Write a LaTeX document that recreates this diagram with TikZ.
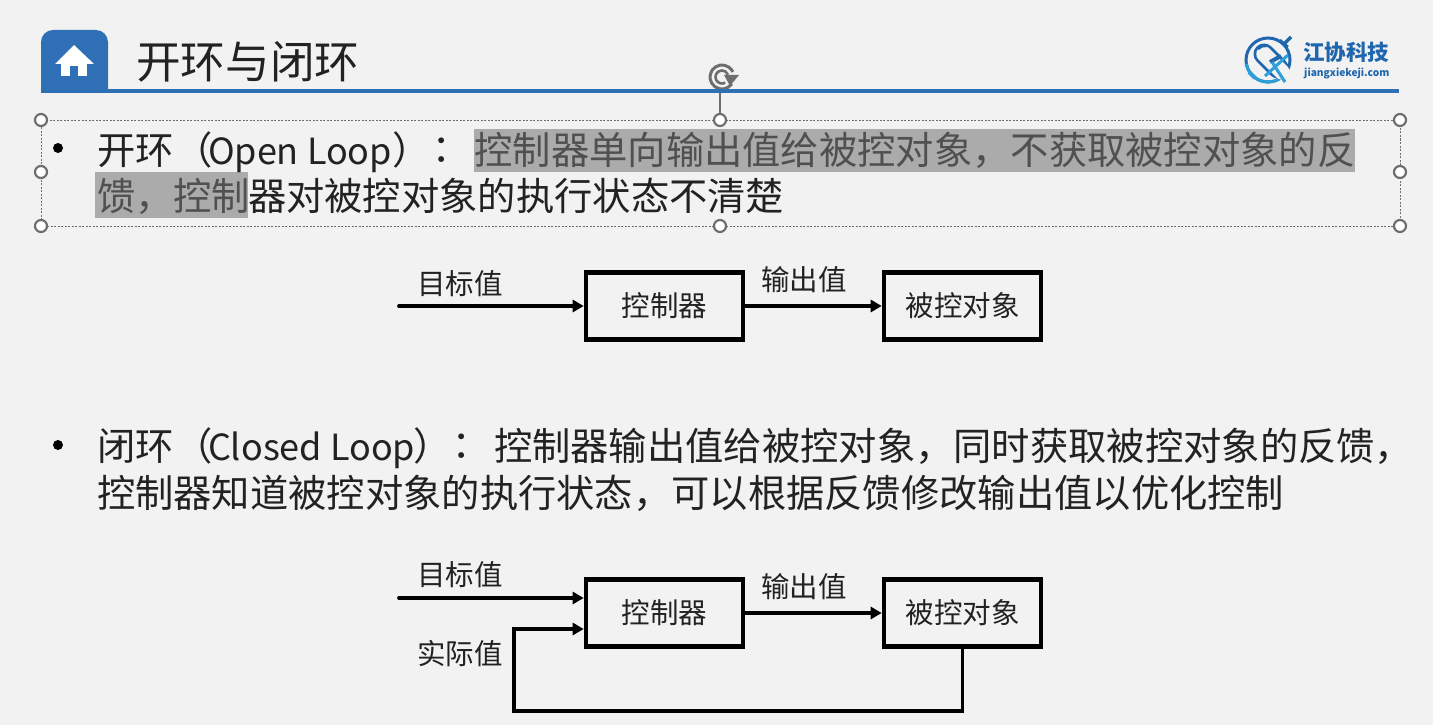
\documentclass[tikz,border=0pt]{standalone}
\usepackage{fontspec}
\setmainfont{Noto Sans CJK SC}
\newfontfamily\tcfont{Noto Sans CJK TC}
\usetikzlibrary{arrows.meta,calc}
\definecolor{bg}{HTML}{F2F2F2}
\definecolor{barblue}{HTML}{2E6FB5}
\definecolor{logodark}{HTML}{1F66AE}
\definecolor{logolight}{HTML}{2A9FD8}
\definecolor{hl}{HTML}{ABABAB}
\definecolor{hltext}{HTML}{505050}
\definecolor{ink}{HTML}{222222}
\definecolor{handle}{HTML}{6E6E6E}
\tikzset{
  x=1pt,y=-1pt,
  body/.style={anchor=base west,inner sep=0pt,outer sep=0pt,text=ink,font=\fontsize{38.3}{38.3}\selectfont},
  latinpart/.style={body,font=\fontsize{36}{36}\selectfont},
  colonpart/.style={anchor=base,inner sep=0pt,outer sep=0pt,text=ink,font=\fontsize{38.3}{38.3}\selectfont\tcfont},
  seltext/.style={body,text=hltext},
  blockbox/.style={draw=black,line width=4.6pt,minimum width=157pt,minimum height=67pt,inner sep=0pt,font=\fontsize{28.5}{28.5}\selectfont,text=ink},
  lbl/.style={anchor=center,inner sep=0pt,font=\fontsize{28.5}{28.5}\selectfont,text=ink},
  flow/.style={line width=3.8pt,draw=black,line cap=round,-{Triangle[length=11pt,width=12pt]}},
  handlept/.style={circle,draw=handle,fill=white,line width=2.2pt,minimum size=12pt,inner sep=0pt},
  bulletdot/.style={circle,fill=black,minimum size=10pt,inner sep=0pt}
}
\begin{document}
\begin{tikzpicture}
\useasboundingbox (0,0) rectangle (1433,725);
\fill[bg] (0,0) rectangle (1433,725);
% rotation handle, partly under the header bar
\draw[handle,line width=3pt] (722,77) ++(35:12) arc[start angle=35,end angle=335,radius=12];
\draw[handle,line width=2.6pt] (722,77) ++(60:6.5) arc[start angle=60,end angle=340,radius=6.5];
\fill[handle] (724,75) -- (739,75) -- (730,86) -- cycle;
% header
\fill[barblue] (41,89) rectangle (1399,93);
\fill[barblue] (41,92) -- (41,42) arc[start angle=180,end angle=270,radius=12] -- (96,30) arc[start angle=270,end angle=360,radius=12] -- (108,92) -- cycle;
\fill[white] (74,45) -- (94,64) -- (55,64) -- cycle;
\fill[white] (61,62) rectangle (87,76);
\fill[barblue] (70,66) rectangle (78,76);
\node[anchor=base west,inner sep=0pt,text=ink,font=\fontsize{44.6}{45}\selectfont] (title) at (136,78) {开环与闭环};
% logo
\draw[logodark,line width=3pt] (1268,60) circle[radius=22];
\draw[logolight,line width=3pt] (1268,60) ++(60:22) arc[start angle=60,end angle=170,radius=22];
\draw[bg,line width=7pt] (1284,44) -- (1292,36);
\draw[bg,line width=7pt] (1252,76) -- (1245,83);
\draw[logodark,line width=21pt,line cap=round] (1264,54) -- (1278,68);
\draw[bg,line width=15.5pt,line cap=round] (1264,54) -- (1282,72);
\draw[logodark,line width=2.5pt] (1258,49) arc[start angle=220,end angle=280,radius=9];
\draw[logolight,line width=3pt] (1265,76) -- (1288,55);
\draw[logodark,line width=4pt] (1270,62) -- (1281,56);
\draw[logolight,line width=3pt] (1272,62) -- (1285,82);
\draw[logodark,line width=3.5pt] (1283,45) -- (1291,37);
\draw[logodark,line width=2.5pt] (1280,40) -- (1288,47);
\draw[logolight,line width=4pt] (1249,72) -- (1255,78);
\node[anchor=base west,inner sep=0pt,text=logodark,font=\fontsize{21.5}{22}\selectfont\bfseries] (logoa) at (1303,61) {江协科技};
\node[anchor=base west,inner sep=0pt,text=logodark,font=\fontsize{10.2}{11}\selectfont\bfseries] (logob) at (1304,77) {jiangxiekeji.com};
% selection frame
\draw[handle,line width=1pt,dash pattern=on 2pt off 1.5pt] (41,120) rectangle (1400,226);
\draw[handle,line width=1.2pt] (720,120) -- (720,93);
\node[handlept] (h1) at (41,120) {};
\node[handlept] (h2) at (720,120) {};
\node[handlept] (h3) at (1400,120) {};
\node[handlept] (h4) at (41,172) {};
\node[handlept] (h5) at (1400,172) {};
\node[handlept] (h6) at (41,226) {};
\node[handlept] (h7) at (720,226) {};
\node[handlept] (h8) at (1400,226) {};
% highlight
\fill[hl] (474,129) rectangle (1355,172);
\fill[hl] (95,172) rectangle (248,218);
% body
\node[bulletdot] (b1) at (58,148) {};
\node[body] (t1a) at (97,164) {开环};
\node[body] (t1p) at (174,164) {（};
\node[latinpart] (t1l) at (208,164) {Open Loop};
\node[body] (t1q) at (392,164) {）};
\node[colonpart] (t1c) at (442,164) {：};
\node[seltext] (t1b) at (474.5,164) {控制器单向输出值给被控对象，不获取被控对象的反};
\node[seltext] (t2a) at (97,210.5) {馈，控制};
\node[body] (t2b) at (248,210.5) {器对被控对象的执行状态不清楚};
\node[bulletdot] (b2) at (58,445) {};
\node[body] (t3a) at (97,460.5) {闭环};
\node[body] (t3p) at (174,460.5) {（};
\node[latinpart] (t3l) at (208,460.5) {Closed Loop};
\node[body] (t3q) at (413,460.5) {）};
\node[colonpart] (t3c) at (462,460.5) {：};
\node[body] (t3b) at (494,460.5) {控制器输出值给被控对象，同时获取被控对象的反馈，};
\node[body] (t4) at (97,507) {控制器知道被控对象的执行状态，可以根据反馈修改输出值以优化控制};
% open loop diagram
\node[blockbox] (c1) at (664.5,306) {控制器};
\node[blockbox] (p1) at (962.5,306) {被控对象};
\coordinate (s1) at (399,306);
\draw[flow] (s1) -- (c1.west);
\draw[flow] (c1.east) -- (p1.west);
\node[lbl] (l1) at (460,284) {目标值};
\node[lbl] (l2) at (804,280) {输出值};
% closed loop diagram
\node[blockbox] (c2) at (664.5,613) {控制器};
\node[blockbox] (p2) at (962.5,613) {被控对象};
\coordinate (s2) at (399,598);
\coordinate (fb) at (514,711);
\coordinate (fbtop) at (514,629);
\draw[flow] (s2) -- (c2.west |- s2);
\draw[flow] (c2.east) -- (p2.west);
\draw[flow,line join=miter] (p2.south) |- (fb) -- (fbtop) -- (c2.west |- fbtop);
\node[lbl] (l3) at (460,575) {目标值};
\node[lbl] (l4) at (804,587) {输出值};
\node[lbl] (l5) at (460,654) {实际值};
\end{tikzpicture}
\end{document}
